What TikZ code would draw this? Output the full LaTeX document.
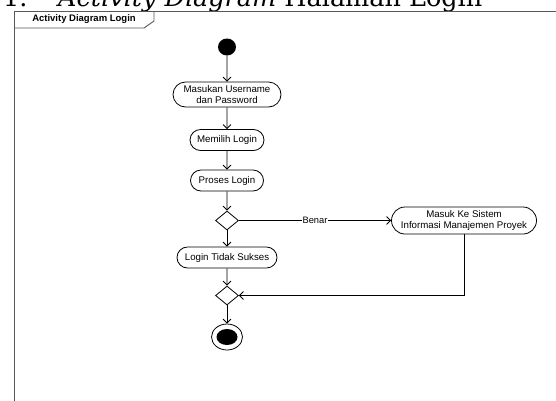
\documentclass[tikz,border=0pt]{standalone}
\usepackage{fontspec}
\setmainfont{Liberation Sans}
\newfontfamily\headfont{DejaVu Serif}
\usetikzlibrary{arrows.meta,shapes.misc,shapes.geometric}
\begin{document}
\begin{tikzpicture}[x=1pt,y=-1pt,
  act/.style={draw=black, line width=0.8pt, rounded rectangle, inner sep=0pt,
    font=\fontsize{9.7}{10.3}\selectfont, align=center},
  flow/.style={draw=black, line width=0.8pt, -{Straight Barb[length=4pt,width=8pt]}},
  dec/.style={draw=black, line width=0.8pt, diamond, minimum width=23pt, minimum height=19pt, inner sep=0pt},
  framel/.style={draw=black!65, line width=0.9pt},
  lbl/.style={fill=white, inner sep=1pt, font=\fontsize{9.3}{10}\selectfont},
]
\useasboundingbox (0,0) rectangle (556,400);
\clip (0,0) rectangle (556,400);
\fill[white] (0,0) rectangle (556,400);

% heading (cut at the top, as in the reference)
\node[anchor=base west, inner sep=0pt, font=\headfont\fontsize{25.5}{25.5}\selectfont] (hnum) at (3,6) {1.};
\node[anchor=base west, inner sep=0pt, font=\headfont\fontsize{25.5}{25.5}\selectfont] (htext) at (58,6) {\textit{Activity Diagram} Halaman Login};

% frame
\draw[framel] (14,402) -- (14,11) -- (558,11);
\draw[framel] (154,11) -- (154,21) -- (144,28) -- (14,28);
\node[font=\bfseries\fontsize{9.5}{10}\selectfont, inner sep=0pt] (title) at (84,19.5) {Activity Diagram Login};

% nodes
\node[ellipse, fill=black, minimum width=18pt, minimum height=17pt, inner sep=0pt] (start) at (227,47) {};
\node[act, minimum width=108pt, minimum height=25pt] (masuk) at (227,94.5) {Masukan Username\\dan Password};
\node[act, minimum width=74pt, minimum height=21pt] (pilih) at (227,140) {Memilih Login};
\node[act, minimum width=73pt, minimum height=21pt] (proses) at (227,180.5) {Proses Login};
\node[dec] (d1) at (227,220.5) {};
\node[act, minimum width=145pt, minimum height=27pt] (sistem) at (464,220.5) {Masuk Ke Sistem\\Informasi Manajemen Proyek};
\node[act, minimum width=100pt, minimum height=21pt] (gagal) at (227,257.5) {Login Tidak Sukses};
\node[dec] (d2) at (227,295.5) {};
\node[ellipse, draw=black, line width=0.8pt, minimum width=31pt, minimum height=26pt, inner sep=0pt] (end) at (227,337) {};
\node[ellipse, fill=black, minimum width=21pt, minimum height=16pt, inner sep=0pt] (endin) at (end.center) {};

% connectors
\draw[flow] (start) -- (masuk);
\draw[flow] (masuk) -- (pilih);
\draw[flow] (pilih) -- (proses);
\draw[flow] (proses) -- (d1);
\draw[flow] (d1) -- node[lbl] (benar) {Benar} (sistem);
\draw[flow] (d1) -- (gagal);
\draw[flow] (gagal) -- (d2);
\draw[flow] (sistem.south) |- (d2.east);
\draw[flow] (d2) -- (end);
\end{tikzpicture}
\end{document}
